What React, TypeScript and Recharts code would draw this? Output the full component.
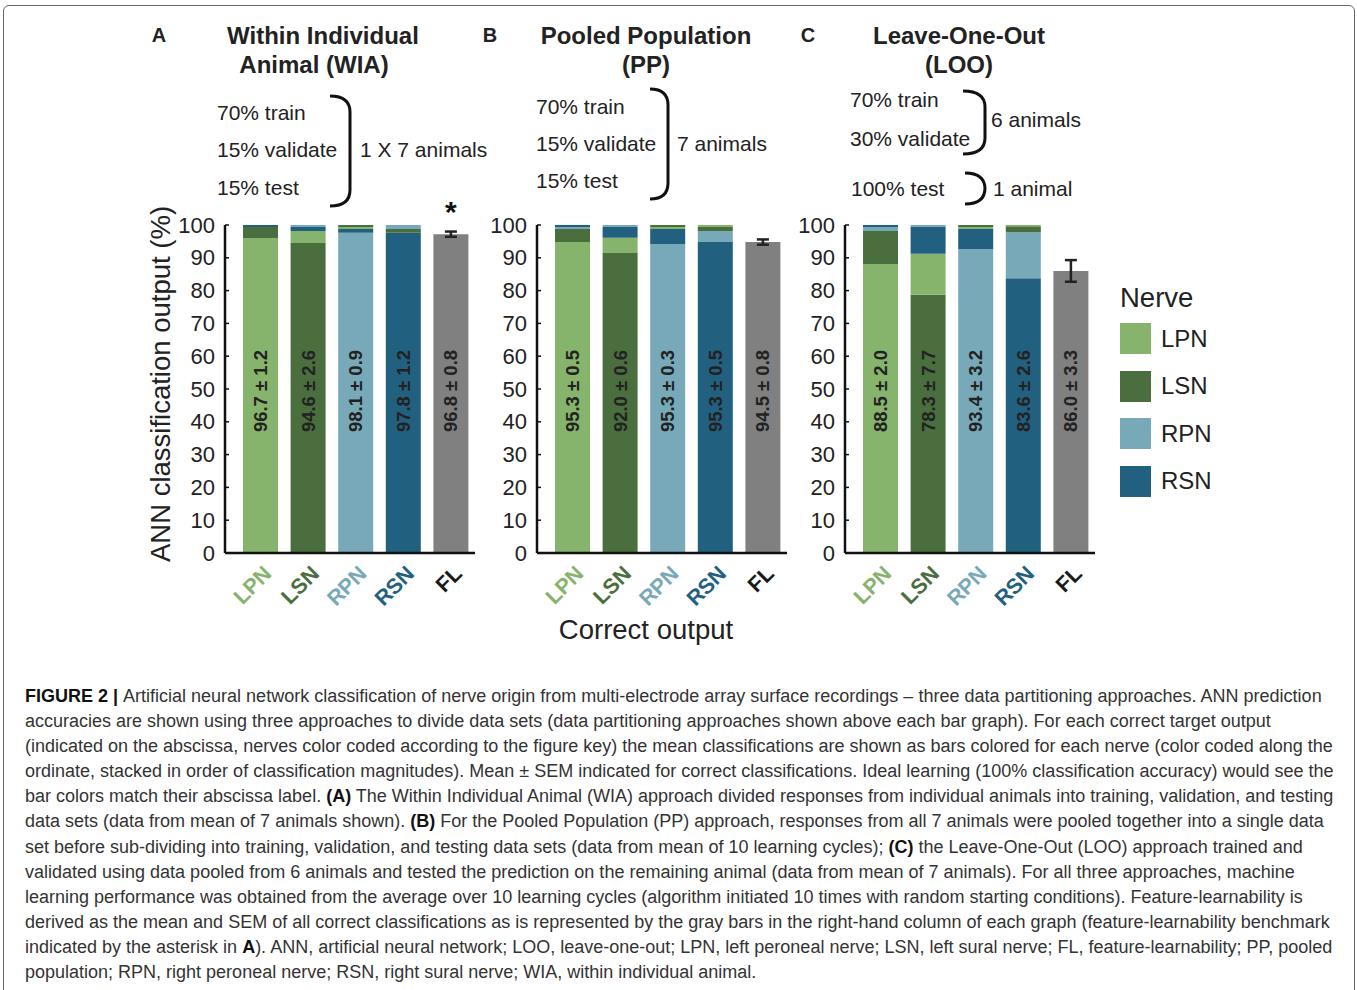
import React from 'react';
import { BarChart, Bar, XAxis, YAxis, Cell, LabelList, ErrorBar } from 'recharts';

const FONT = '"Liberation Sans", Arial, Helvetica, sans-serif';

const nerves = ['LPN', 'LSN', 'RPN', 'RSN'];
const nerveColors = ['#86b46c', '#4a6e3e', '#78a9b8', '#226080'];
const flColor = '#808080';
const categories = ['LPN', 'LSN', 'RPN', 'RSN', 'FL'];
const tickColors = [...nerveColors, '#1a1a1a'];
const yTicks = [0, 10, 20, 30, 40, 50, 60, 70, 80, 90, 100];

// A - within individual animal: stack order (bottom first) and segment sizes per bar
const wiaOrder = [
  ['LPN', 'LSN', 'RSN'],
  ['LSN', 'LPN', 'RSN', 'RPN'],
  ['RPN', 'RSN', 'LPN', 'LSN'],
  ['RSN', 'LSN', 'RPN'],
];
const wiaValues = [
  [96.0, 3.4, 0.6],
  [94.5, 3.7, 1.2, 0.6],
  [97.6, 1.2, 0.6, 0.6],
  [97.6, 1.2, 1.2],
];
const wiaFl = [97.2, 0.8];
const wiaMeans = [96.7, 94.6, 98.1, 97.8, 96.8];
const wiaSems = [1.2, 2.6, 0.9, 1.2, 0.8];

// B - pooled population
const ppOrder = [
  ['LPN', 'LSN', 'RPN', 'RSN'],
  ['LSN', 'LPN', 'RSN', 'RPN'],
  ['RPN', 'RSN', 'LPN', 'LSN'],
  ['RSN', 'RPN', 'LSN', 'LPN'],
];
const ppValues = [
  [94.8, 4.0, 0.6, 0.6],
  [91.5, 4.6, 3.3, 0.6],
  [94.2, 4.6, 0.6, 0.6],
  [94.8, 3.4, 1.2, 0.6],
];
const ppFl = [94.8, 0.8];
const ppMeans = [95.3, 92.0, 95.3, 95.3, 94.5];
const ppSems = [0.5, 0.6, 0.3, 0.5, 0.8];

// C - leave one out
const looOrder = [
  ['LPN', 'LSN', 'RPN', 'RSN'],
  ['LSN', 'LPN', 'RSN', 'RPN'],
  ['RPN', 'RSN', 'LPN', 'LSN'],
  ['RSN', 'RPN', 'LSN', 'LPN'],
];
const looValues = [
  [88.1, 10.1, 1.2, 0.6],
  [78.7, 12.5, 8.2, 0.6],
  [92.7, 6.1, 0.6, 0.6],
  [83.8, 14.0, 1.8, 0.4],
];
const looFl = [86.0, 3.3];
const looMeans = [88.5, 78.3, 93.4, 83.6, 86.0];
const looSems = [2.0, 7.7, 3.2, 2.6, 3.3];

const captionLines = [
  [['FIGURE 2 | ', true], ['Artificial neural network classification of nerve origin from multi-electrode array surface recordings – three data partitioning approaches. ANN prediction', false]],
  [['accuracies are shown using three approaches to divide data sets (data partitioning approaches shown above each bar graph). For each correct target output', false]],
  [['(indicated on the abscissa, nerves color coded according to the figure key) the mean classifications are shown as bars colored for each nerve (color coded along the', false]],
  [['ordinate, stacked in order of classification magnitudes). Mean ± SEM indicated for correct classifications. Ideal learning (100% classification accuracy) would see the', false]],
  [['bar colors match their abscissa label. ', false], ['(A)', true], [' The Within Individual Animal (WIA) approach divided responses from individual animals into training, validation, and testing', false]],
  [['data sets (data from mean of 7 animals shown). ', false], ['(B)', true], [' For the Pooled Population (PP) approach, responses from all 7 animals were pooled together into a single data', false]],
  [['set before sub-dividing into training, validation, and testing data sets (data from mean of 10 learning cycles); ', false], ['(C)', true], [' the Leave-One-Out (LOO) approach trained and', false]],
  [['validated using data pooled from 6 animals and tested the prediction on the remaining animal (data from mean of 7 animals). For all three approaches, machine', false]],
  [['learning performance was obtained from the average over 10 learning cycles (algorithm initiated 10 times with random starting conditions). Feature-learnability is', false]],
  [['derived as the mean and SEM of all correct classifications as is represented by the gray bars in the right-hand column of each graph (feature-learnability benchmark', false]],
  [['indicated by the asterisk in ', false], ['A', true], ['). ANN, artificial neural network; LOO, leave-one-out; LPN, left peroneal nerve; LSN, left sural nerve; FL, feature-learnability; PP, pooled', false]],
  [['population; RPN, right peroneal nerve; RSN, right sural nerve; WIA, within individual animal.', false]],
] as [string, boolean][][];

const buildRows = (order: string[][], values: number[][], fl: number[], means: number[], sems: number[]) =>
  categories.map((cat, i) => {
    const row: any = { cat, label: `${means[i].toFixed(1)} ± ${sems[i].toFixed(1)}` };
    for (let k = 0; k < 4; k++) {
      if (i < 4) {
        row['s' + k] = values[i][k] ?? 0;
        row['c' + k] = order[i][k] ? nerveColors[nerves.indexOf(order[i][k])] : 'none';
      } else {
        row['s' + k] = k === 0 ? fl[0] : 0;
        row['c' + k] = k === 0 ? flColor : 'none';
      }
    }
    row.err = i === 4 ? fl[1] : undefined;
    return row;
  });

const YTick = (props: any) => {
  const { x, y, payload } = props;
  return (
    <g>
      <line x1={x} x2={x + 4} y1={y} y2={y} stroke="#111" strokeWidth={1.5} />
      <text x={x - 10} y={y} dy={7.5} textAnchor="end" fontSize={22} fill="#222" fontFamily={FONT}>
        {payload.value}
      </text>
    </g>
  );
};

const XTick = (props: any) => {
  const { x, y, payload, index } = props;
  const ax = x + 12;
  const ay = y + 22;
  return (
    <text
      x={ax}
      y={ay}
      transform={`rotate(-45, ${ax}, ${ay})`}
      textAnchor="end"
      fontSize={21.5}
      fontWeight="bold"
      fill={tickColors[index]}
      fontFamily={FONT}
    >
      {payload.value}
    </text>
  );
};

const Panel = ({ rows, left, star }: { rows: any[]; left: number; star?: boolean }) => {
  const renderLabel = (props: any) => {
    const { x, y, width, height, value, index } = props;
    const cx = x + width / 2;
    const cy = y + height - 162;
    return (
      <g>
        <text
          x={cx}
          y={cy}
          transform={`rotate(-90, ${cx}, ${cy})`}
          textAnchor="middle"
          dominantBaseline="central"
          fontSize={18.5}
          fontWeight="bold"
          fill="#222"
          fontFamily={FONT}
        >
          {value}
        </text>
        {star && index === 4 ? (
          <text x={cx} y={y - 12} textAnchor="middle" fontSize={30} fontWeight="bold" fill="#111" fontFamily={FONT}>
            *
          </text>
        ) : null}
      </g>
    );
  };
  return (
    <div style={{ position: 'absolute', left, top: 195 }}>
      <BarChart width={305} height={420} data={rows} margin={{ top: 30, right: 5, left: 0, bottom: 0 }} barSize={35}>
        <XAxis
          dataKey="cat"
          height={62}
          padding={{ left: 12, right: 0 }}
          tick={<XTick />}
          tickLine={false}
          tickSize={0}
          tickMargin={0}
          axisLine={{ stroke: '#111', strokeWidth: 2.5 }}
          interval={0}
        />
        <YAxis
          width={50}
          domain={[0, 100]}
          ticks={yTicks}
          tick={<YTick />}
          tickLine={false}
          tickSize={0}
          tickMargin={0}
          axisLine={{ stroke: '#111', strokeWidth: 2.5 }}
          interval={0}
        />
        {[0, 1, 2, 3].map((k) => (
          <Bar key={k} dataKey={'s' + k} stackId="a" isAnimationActive={false}>
            {rows.map((r, i) => (
              <Cell key={i} fill={r['c' + k]} />
            ))}
            {k === 0 ? <LabelList dataKey="label" content={renderLabel} /> : null}
            {k === 0 ? <ErrorBar dataKey="err" width={6} stroke="#222" strokeWidth={2.5} /> : null}
          </Bar>
        ))}
      </BarChart>
    </div>
  );
};

const Bracket = ({ x, y1, y2, w }: { x: number; y1: number; y2: number; w: number }) => (
  <path
    d={`M${x},${y1} Q${x + w},${y1} ${x + w},${y1 + 16} L${x + w},${y2 - 16} Q${x + w},${y2} ${x},${y2}`}
    fill="none"
    stroke="#111"
    strokeWidth={3}
  />
);

const App = () => {
  const wiaRows = buildRows(wiaOrder, wiaValues, wiaFl, wiaMeans, wiaSems);
  const ppRows = buildRows(ppOrder, ppValues, ppFl, ppMeans, ppSems);
  const looRows = buildRows(looOrder, looValues, looFl, looMeans, looSems);

  const t = { fontFamily: FONT, fill: '#222' } as const;

  return (
    <div style={{ position: 'absolute', left: 0, top: 0, width: 1357, height: 990, background: '#fff', fontFamily: FONT, overflow: 'hidden' }}>
      <div style={{ position: 'absolute', left: 3, top: 5, width: 1352, height: 1000, border: '1px solid #666', borderRadius: 6, boxSizing: 'border-box' }} />
      <svg width={1357} height={660} style={{ position: 'absolute', left: 0, top: 0 }}>
        {/* panel letters and titles */}
        <text x={159} y={42} textAnchor="middle" fontSize={20} fontWeight="bold" {...t}>A</text>
        <text x={490} y={42} textAnchor="middle" fontSize={20} fontWeight="bold" {...t}>B</text>
        <text x={808} y={42} textAnchor="middle" fontSize={20} fontWeight="bold" {...t}>C</text>
        <text x={323} y={44} textAnchor="middle" fontSize={24} fontWeight="bold" {...t}>Within Individual</text>
        <text x={314} y={73} textAnchor="middle" fontSize={24} fontWeight="bold" {...t}>Animal (WIA)</text>
        <text x={646} y={44} textAnchor="middle" fontSize={24} fontWeight="bold" {...t}>Pooled Population</text>
        <text x={646} y={73} textAnchor="middle" fontSize={24} fontWeight="bold" {...t}>(PP)</text>
        <text x={959} y={44} textAnchor="middle" fontSize={24} fontWeight="bold" {...t}>Leave-One-Out</text>
        <text x={959} y={73} textAnchor="middle" fontSize={24} fontWeight="bold" {...t}>(LOO)</text>

        {/* partition descriptions */}
        <text x={217} y={120} fontSize={21} {...t}>70% train</text>
        <text x={217} y={157} fontSize={21} {...t}>15% validate</text>
        <text x={217} y={195} fontSize={21} {...t}>15% test</text>
        <Bracket x={330} y1={96} y2={206} w={20} />
        <text x={360} y={157} fontSize={21} {...t}>1 X 7 animals</text>

        <text x={536} y={114} fontSize={21} {...t}>70% train</text>
        <text x={536} y={151} fontSize={21} {...t}>15% validate</text>
        <text x={536} y={188} fontSize={21} {...t}>15% test</text>
        <Bracket x={650} y1={89} y2={199} w={18} />
        <text x={677} y={151} fontSize={21} {...t}>7 animals</text>

        <text x={850} y={107} fontSize={21} {...t}>70% train</text>
        <text x={850} y={146} fontSize={21} {...t}>30% validate</text>
        <Bracket x={963} y1={91} y2={154} w={22} />
        <text x={991} y={127} fontSize={21} {...t}>6 animals</text>
        <text x={851} y={196} fontSize={21} {...t}>100% test</text>
        <Bracket x={965} y1={173} y2={204} w={20} />
        <text x={993} y={196} fontSize={21} {...t}>1 animal</text>

        {/* axis titles */}
        <text x={0} y={0} transform="translate(170, 384) rotate(-90)" textAnchor="middle" fontSize={27.5} {...t}>
          ANN classification output (%)
        </text>
        <text x={646} y={639} textAnchor="middle" fontSize={27.5} {...t}>Correct output</text>
      </svg>

      <Panel rows={wiaRows} left={175} star />
      <Panel rows={ppRows} left={487} />
      <Panel rows={looRows} left={795} />

      {/* legend */}
      <div style={{ position: 'absolute', left: 1120, top: 280, color: '#222' }}>
        <div style={{ fontSize: 27.5, height: 40, lineHeight: '36px' }}>Nerve</div>
        {nerves.map((n, i) => (
          <div key={n} style={{ position: 'absolute', left: 0, top: 43 + i * 47.5, display: 'flex', alignItems: 'center' }}>
            <div style={{ width: 31, height: 31, background: nerveColors[i] }} />
            <div style={{ fontSize: 24, marginLeft: 10 }}>{n}</div>
          </div>
        ))}
      </div>

      {/* caption */}
      <div style={{ position: 'absolute', left: 25, top: 684, fontSize: 18, lineHeight: '25.1px', color: '#333', whiteSpace: 'nowrap' }}>
        {captionLines.map((line, i) => (
          <div key={i}>
            {line.map(([s, b], j) => (
              <span key={j} style={b ? { fontWeight: 'bold', color: '#111' } : undefined}>{s}</span>
            ))}
          </div>
        ))}
      </div>
    </div>
  );
};

export default App;
